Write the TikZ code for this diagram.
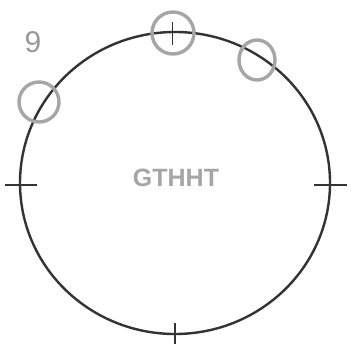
\documentclass[tikz,border=0pt]{standalone}
\usepackage{fontspec}
\setmainfont{Liberation Sans}
\begin{document}
\begin{tikzpicture}[x=1pt,y=1pt,
  mainline/.style={draw=black!80,line width=2.4pt},
  tickline/.style={draw=black!80,line width=1.6pt},
  mark circle/.style={draw=black!35,line width=3.4pt},
  pencil/.style={text=black!40,font=\fontsize{24}{24}\selectfont}]
\useasboundingbox (0,0) rectangle (351,349);
\fill[white] (0,0) rectangle (351,349);
% main circle
\draw[mainline] (175,166) ellipse [x radius=155, y radius=151];
% ticks
\coordinate (L) at (20,164);
\coordinate (R) at (330,164);
\coordinate (B) at (175,15);
\coordinate (T) at (172,317);
\draw[tickline] (5,164) -- (37,164);
\draw[tickline] (314,164) -- (347,164);
\draw[tickline] (175,26) -- (175,5);
\draw[draw=black!80,line width=0.7pt] (172,327) -- (172,304);
% grey circles
\draw[mark circle] (173,316) circle [radius=21];
\draw[mark circle] (257,289) ellipse [x radius=18, y radius=20];
\draw[mark circle] (39,247) circle [radius=20];
% labels
\node[pencil,font=\fontsize{30}{30}\selectfont] (nine) at (33,307) {9};
\node[pencil,font=\bfseries\fontsize{25}{25}\selectfont,text=black!35] (label) at (176,171) {GTHHT};
\end{tikzpicture}
\end{document}
